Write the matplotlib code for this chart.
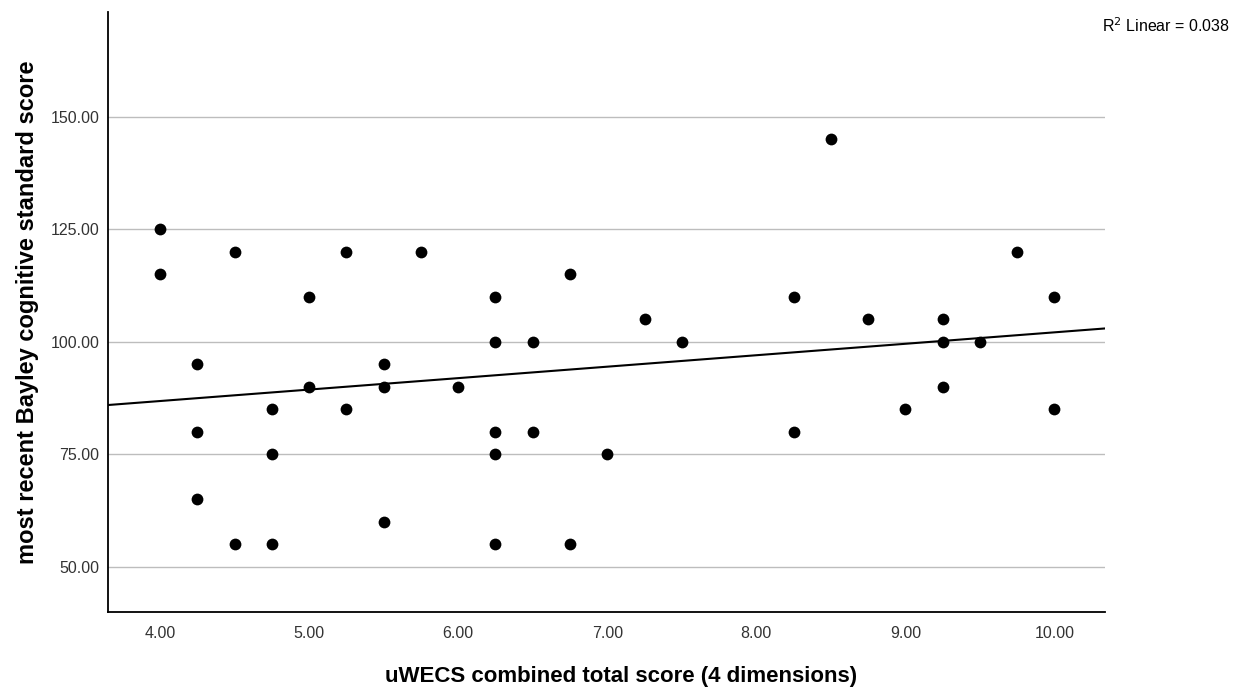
import numpy as np
import matplotlib
matplotlib.use("Agg")
import matplotlib.pyplot as plt

plt.rcParams['font.family'] = ['Liberation Sans', 'DejaVu Sans']

uwecs = [4.00, 4.00, 4.25, 4.25, 4.25, 4.50, 4.50, 4.75, 4.75, 4.75,
         5.00, 5.00, 5.25, 5.25, 5.50, 5.50, 5.50, 5.75, 6.00,
         6.25, 6.25, 6.25, 6.25, 6.25, 6.50, 6.50, 6.75, 6.75, 7.00,
         7.25, 7.50, 8.25, 8.25, 8.50, 8.75, 9.00, 9.25, 9.25, 9.25,
         9.50, 9.75, 10.00, 10.00]
bayley = [125, 115, 95, 80, 65, 120, 55, 85, 75, 55,
          110, 90, 120, 85, 95, 90, 60, 120, 90,
          110, 100, 80, 75, 55, 100, 80, 115, 55, 75,
          105, 100, 110, 80, 145, 105, 85, 105, 100, 90,
          100, 120, 110, 85]

y_ticks = [50, 75, 100, 125, 150]
x_ticks = [4, 5, 6, 7, 8, 9, 10]
r2_text = "R$^2$ Linear = 0.038"

x = np.array(uwecs, dtype=float)
y = np.array(bayley, dtype=float)

fig = plt.figure(figsize=(12.38, 6.88), dpi=100)
ax = fig.add_axes([0.0872, 0.1105, 0.8054, 0.8721])
xmin, xmax = 3.65, 10.34
ax.set_xlim(xmin, xmax)
ax.set_ylim(40, 173.3)

for t in y_ticks:
    ax.axhline(t, color='#bdbdbd', lw=1.0, zorder=1)

ax.scatter(x, y, s=72, color='black', zorder=3, linewidths=0)

slope, intercept = np.polyfit(x, y, 1)
xl = np.array([xmin, xmax])
ax.plot(xl, intercept + slope * xl, color='black', lw=1.5, zorder=2)

ax.set_xticks(x_ticks)
ax.set_xticklabels([f"{v:.2f}" for v in x_ticks])
ax.set_yticks(y_ticks)
ax.set_yticklabels([f"{v:.2f}" for v in y_ticks], va='center_baseline')
ax.tick_params(length=0, labelsize=11.5, colors='#333333')
ax.tick_params(axis='x', pad=10)
ax.tick_params(axis='y', pad=6)
for s in ['top', 'right']:
    ax.spines[s].set_visible(False)
for s in ['left', 'bottom']:
    ax.spines[s].set_linewidth(1.3)
    ax.spines[s].set_color('black')

ax.set_xlabel("uWECS combined total score (4 dimensions)", fontsize=16,
              fontweight='bold')
ax.xaxis.set_label_coords(0.5145, -0.108)
ax.xaxis.label.set_va('center')
ax.set_ylabel("most recent Bayley cognitive standard score", fontsize=17,
              fontweight='bold')
ax.yaxis.set_label_coords(-0.081, 0.5)
ax.yaxis.label.set_va('center')

fig.text(0.9935, 0.963, r2_text, ha='right', va='center', fontsize=11.5)

fig.savefig("out.png", dpi=100, facecolor='white')
